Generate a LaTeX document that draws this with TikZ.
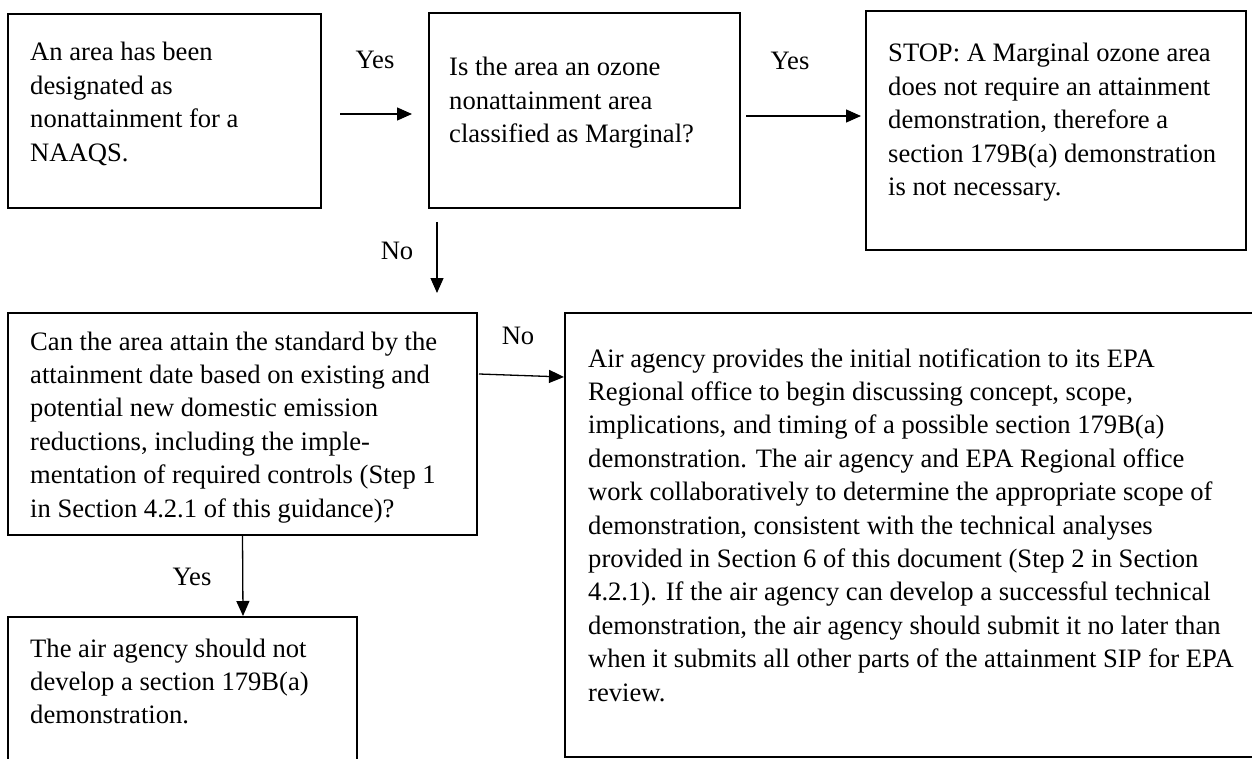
\documentclass[tikz,border=0pt]{standalone}
\usepackage{fontspec}
\setmainfont{Liberation Serif}
\usetikzlibrary{arrows.meta}
\begin{document}
\begin{tikzpicture}[x=1pt,y=-1pt,
  box/.style={draw, line width=2.6pt, rectangle, inner sep=0pt, outer sep=0pt, anchor=north west},
  txt/.style={inner sep=0pt, align=left, anchor=base west, font=\fontsize{26.6}{33.4}\selectfont},
  lbl/.style={inner sep=0pt, anchor=base, font=\fontsize{26.6}{33.4}\selectfont},
  arr/.style={line width=1.3pt, -{Triangle[length=15pt,width=13pt]}}]
\useasboundingbox (0,0) rectangle (1252,759);
% boxes
\node[box, minimum width=313pt, minimum height=194pt] (A) at (8,14) {};
\node[box, minimum width=311pt, minimum height=195pt] (B) at (429,13) {};
\node[box, minimum width=380pt, minimum height=239pt] (C) at (866,11) {};
\node[box, minimum width=469pt, minimum height=222pt] (D) at (8,313) {};
\node[box, minimum width=700pt, minimum height=444pt] (E) at (565,313) {};
\node[box, minimum width=349pt, minimum height=170pt] (F) at (8,617) {};
% texts (anchored at the baseline of their last line)
\node[txt] (tA) at (30,161.2) {An area has been\\designated as\\nonattainment for a\\NAAQS.};
\node[txt] (tB) at (449,142.8) {Is the area an ozone\\nonattainment area\\classified as Marginal?};
\node[txt] (tC) at (888,195.6) {STOP: A Marginal ozone area\\does not require an attainment\\demonstration, therefore a\\section 179B(a) demonstration\\is not necessary.};
\node[txt] (tD) at (30,517) {Can the area attain the standard by the\\attainment date based on existing and\\potential new domestic emission\\reductions, including the imple-\\mentation of required controls (Step 1\\in Section 4.2.1 of this guidance)?};
\node[txt] (tE) at (588,701) {Air agency provides the initial notification to its EPA\\Regional office to begin discussing concept, scope,\\implications, and timing of a possible section 179B(a)\\demonstration. The air agency and EPA Regional office\\work collaboratively to determine the appropriate scope of\\demonstration, consistent with the technical analyses\\provided in Section 6 of this document (Step 2 in Section\\4.2.1). If the air agency can develop a successful technical\\demonstration, the air agency should submit it no later than\\when it submits all other parts of the attainment SIP for EPA\\review.};
\node[txt] (tF) at (30,723.8) {The air agency should not\\develop a section 179B(a)\\demonstration.};
% labels
\node[lbl] (y1) at (375,69) {Yes};
\node[lbl] (y2) at (790,70) {Yes};
\node[lbl] (n1) at (397,259) {No};
\node[lbl] (n2) at (518,344) {No};
\node[lbl] (y3) at (192,585) {Yes};
% connectors
\draw[arr] ([xshift=19pt,yshift=-3pt]A.east) -- ([xshift=-17pt,yshift=-3.5pt]B.west);
\draw[arr] ([xshift=6pt,yshift=-5.5pt]B.east) -- ([xshift=-5pt,yshift=14.5pt]C.west);
\draw[arr] ([xshift=8pt,yshift=-14pt]B.south west) -- ([xshift=-40pt,yshift=20pt]D.north east);
\draw[arr] ([xshift=2pt,yshift=50pt]D.east) -- ([xshift=-1pt,yshift=158pt]E.west);
\draw[arr] (D.south) -- ([xshift=60.5pt,yshift=1pt]F.north);
\end{tikzpicture}
\end{document}
